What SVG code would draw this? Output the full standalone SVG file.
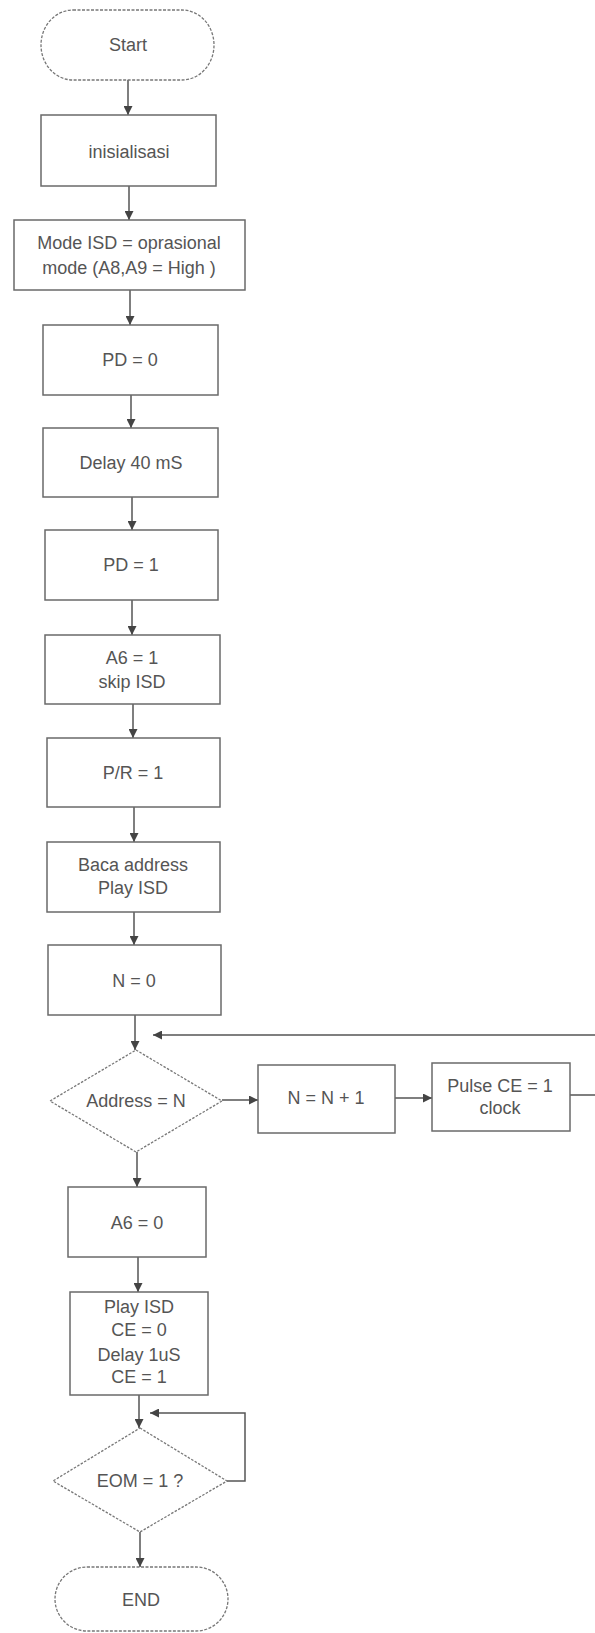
<svg xmlns="http://www.w3.org/2000/svg" width="595" height="1633" viewBox="0 0 595 1633">
<defs>
<style>
.bx{fill:none;stroke:#6a6a6a;stroke-width:1.5}
.dm{fill:none;stroke:#777;stroke-width:1.3;stroke-dasharray:2.5,1.5}
.tm{fill:none;stroke:#777;stroke-width:1.3;stroke-dasharray:3,1.5}
.t{font-family:"Liberation Sans",Arial,sans-serif;font-size:18px;fill:#555;text-anchor:middle;dominant-baseline:central}
.c{fill:none;stroke:#555;stroke-width:1.5}
</style>
<marker id="ah" viewBox="0 0 10 10" refX="10" refY="5" markerWidth="9" markerHeight="9" markerUnits="userSpaceOnUse" orient="auto">
<path d="M0,0 L10,5 L0,10 Z" fill="#444"/>
</marker>
</defs>
<rect width="595" height="1633" fill="#fff"/>
<g id="connectors">
<line class="c" x1="128" y1="80" x2="128" y2="115" marker-end="url(#ah)"/>
<line class="c" x1="129" y1="186" x2="129" y2="220" marker-end="url(#ah)"/>
<line class="c" x1="130" y1="290" x2="130" y2="325" marker-end="url(#ah)"/>
<line class="c" x1="131" y1="395" x2="131" y2="428" marker-end="url(#ah)"/>
<line class="c" x1="132" y1="497" x2="132" y2="530" marker-end="url(#ah)"/>
<line class="c" x1="132" y1="600" x2="132" y2="635" marker-end="url(#ah)"/>
<line class="c" x1="133" y1="704" x2="133" y2="738" marker-end="url(#ah)"/>
<line class="c" x1="134" y1="807" x2="134" y2="842" marker-end="url(#ah)"/>
<line class="c" x1="134" y1="912" x2="134" y2="945" marker-end="url(#ah)"/>
<line class="c" x1="135" y1="1015" x2="135" y2="1050" marker-end="url(#ah)"/>
<line class="c" x1="595" y1="1035" x2="153" y2="1035" marker-end="url(#ah)"/>
<line class="c" x1="222" y1="1100" x2="258" y2="1100" marker-end="url(#ah)"/>
<line class="c" x1="395" y1="1098" x2="432" y2="1098" marker-end="url(#ah)"/>
<line class="c" x1="570" y1="1095" x2="595" y2="1095"/>
<line class="c" x1="137" y1="1152" x2="137" y2="1187" marker-end="url(#ah)"/>
<line class="c" x1="138" y1="1257" x2="138" y2="1292" marker-end="url(#ah)"/>
<line class="c" x1="139" y1="1395" x2="139" y2="1428" marker-end="url(#ah)"/>
<polyline class="c" points="227,1481 245,1481 245,1413 150,1413" marker-end="url(#ah)"/>
<line class="c" x1="140" y1="1532" x2="140" y2="1567" marker-end="url(#ah)"/>
</g>
<g id="start">
<rect class="tm" x="41" y="10" width="173" height="70" rx="32" ry="35"/>
<text class="t" x="128" y="45">Start</text>
</g>
<g id="inisialisasi">
<rect class="bx" x="41" y="115" width="175" height="71"/>
<text class="t" x="129" y="152">inisialisasi</text>
</g>
<g id="mode">
<rect class="bx" x="14" y="220" width="231" height="70"/>
<text class="t" x="129" y="243">Mode ISD = oprasional</text>
<text class="t" x="129" y="268">mode (A8,A9 = High )</text>
</g>
<g id="pd0">
<rect class="bx" x="43" y="325" width="175" height="70"/>
<text class="t" x="130" y="360">PD = 0</text>
</g>
<g id="delay40">
<rect class="bx" x="43" y="428" width="175" height="69"/>
<text class="t" x="131" y="463">Delay 40 mS</text>
</g>
<g id="pd1">
<rect class="bx" x="45" y="530" width="173" height="70"/>
<text class="t" x="131" y="565">PD = 1</text>
</g>
<g id="a6-1">
<rect class="bx" x="45" y="635" width="175" height="69"/>
<text class="t" x="132" y="658">A6 = 1</text>
<text class="t" x="132" y="682">skip ISD</text>
</g>
<g id="pr1">
<rect class="bx" x="47" y="738" width="173" height="69"/>
<text class="t" x="133" y="773">P/R = 1</text>
</g>
<g id="baca">
<rect class="bx" x="47" y="842" width="173" height="70"/>
<text class="t" x="133" y="865">Baca address</text>
<text class="t" x="133" y="888">Play ISD</text>
</g>
<g id="n0">
<rect class="bx" x="48" y="945" width="173" height="70"/>
<text class="t" x="134" y="981">N = 0</text>
</g>
<g id="address">
<polygon class="dm" points="136,1050 222,1101 136,1152 50,1101"/>
<text class="t" x="136" y="1101">Address = N</text>
</g>
<g id="nplus">
<rect class="bx" x="258" y="1065" width="137" height="68"/>
<text class="t" x="326" y="1098">N = N + 1</text>
</g>
<g id="pulse">
<rect class="bx" x="432" y="1063" width="138" height="68"/>
<text class="t" x="500" y="1086">Pulse CE = 1</text>
<text class="t" x="500" y="1108">clock</text>
</g>
<g id="a6-0">
<rect class="bx" x="68" y="1187" width="138" height="70"/>
<text class="t" x="137" y="1223">A6 = 0</text>
</g>
<g id="play">
<rect class="bx" x="70" y="1292" width="138" height="103"/>
<text class="t" x="139" y="1307">Play ISD</text>
<text class="t" x="139" y="1330">CE = 0</text>
<text class="t" x="139" y="1355">Delay 1uS</text>
<text class="t" x="139" y="1377">CE = 1</text>
</g>
<g id="eom">
<polygon class="dm" points="140,1428 227,1481 140,1532 53,1481"/>
<text class="t" x="140" y="1481">EOM = 1 ?</text>
</g>
<g id="end">
<rect class="tm" x="55" y="1567" width="173" height="64" rx="32" ry="32"/>
<text class="t" x="141" y="1600">END</text>
</g>
</svg>
